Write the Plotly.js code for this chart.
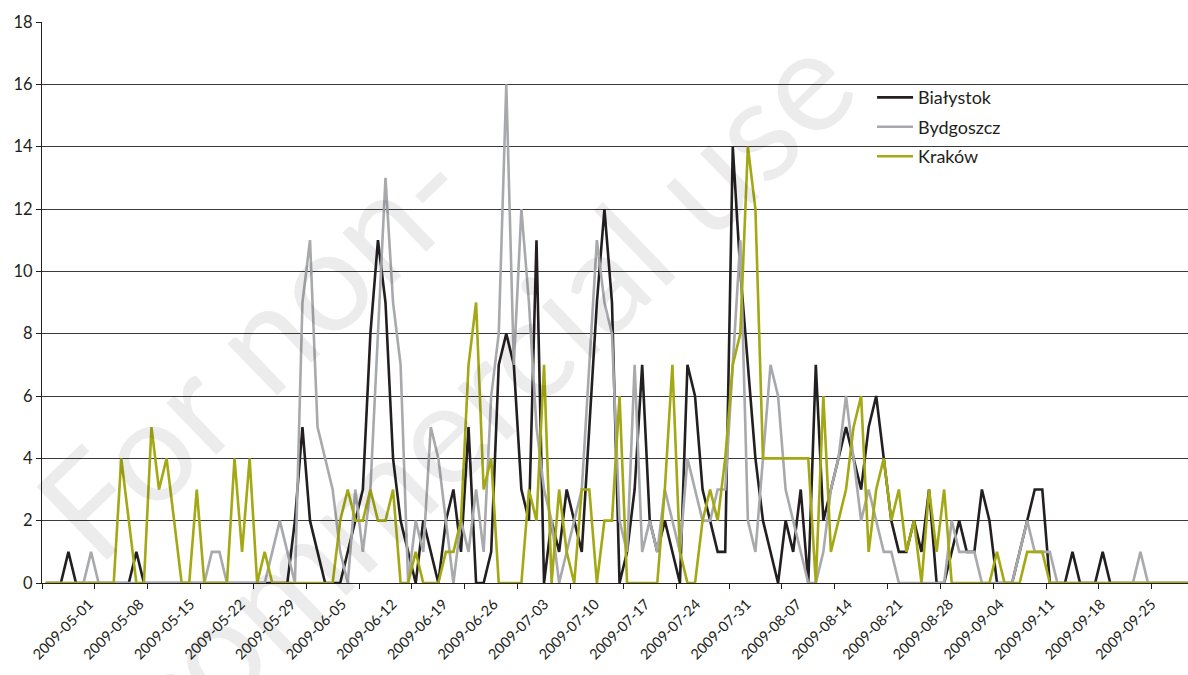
<!DOCTYPE html>
<html><head><meta charset="utf-8">
<script src="https://cdn.plot.ly/plotly-3.0.1.min.js"></script>
<style>html,body{margin:0;padding:0;background:#fff}#chart{width:1188px;height:675px}</style>
</head><body><div id="chart"></div>
<script>
// categories: daily dates 2009-05-01 .. 2009-09-30
const dayCount = 153;
const dates = [];
(function () {
  const d0 = Date.UTC(2009, 4, 1);
  for (let i = 0; i < dayCount; i++) dates.push(new Date(d0 + i * 86400000).toISOString().slice(0, 10));
})();
const dayIndex = dates.map((d, i) => i);

const seriesNames = ['Białystok', 'Bydgoszcz', 'Kraków'];

const bialystok = [
  0,0,0,1,0,0,0,0,0,0, 0,0,1,0,0,0,0,0,0,0,
  0,0,0,0,0,0,0,0,0,0, 0,0,0,2,5,2,1,0,0,0,
  1,2,3,8,11,9,4,2,1,0, 2,1,0,2,3,1,5,0,0,1,
  7,8,7,3,2,11,0,2,1,3, 2,1,5,9,12,9,0,1,3,7,
  2,1,2,1,0,7,6,3,2,1, 1,14,10,7,4,2,1,0,2,1,
  3,0,7,2,3,4,5,4,3,5, 6,4,2,1,1,2,1,3,0,0,
  1,2,1,1,3,2,0,0,0,1, 2,3,3,0,0,0,1,0,0,0,
  1,0,0,0,0,0,0,0,0,0, 0,0,0
];
const bydgoszcz = [
  0,0,0,0,0,0,1,0,0,0, 0,0,0,0,0,0,0,0,0,0,
  0,0,1,1,0,0,0,0,0,0, 1,2,1,0,9,11,5,4,3,1,
  0,3,1,3,8,13,9,7,0,2, 1,5,4,2,0,2,1,3,1,6,
  8,16,7,12,9,5,3,2,0,1, 2,3,7,11,9,8,2,1,7,1,
  2,1,3,2,1,4,3,2,2,3, 3,7,11,2,1,4,7,6,3,2,
  1,0,0,1,3,4,6,4,2,3, 2,1,1,0,0,0,0,0,0,0,
  2,1,1,1,0,0,0,0,0,1, 2,1,1,1,0,0,0,0,0,0,
  0,0,0,0,0,1,0,0,0,0, 0,0,0
];
const krakow = [
  0,0,0,0,0,0,0,0,0,0, 4,2,0,0,5,3,4,2,0,0,
  3,0,0,0,0,4,1,4,0,1, 0,0,0,0,0,0,0,0,0,2,
  3,2,2,3,2,2,3,0,0,1, 0,0,0,1,1,2,7,9,3,4,
  0,0,0,0,3,2,7,0,3,1, 0,3,3,0,2,2,6,0,0,0,
  0,0,3,7,1,0,0,2,3,2, 4,7,8,14,12,4,4,4,4,4,
  4,4,0,6,1,2,3,5,6,1, 3,4,2,3,1,2,0,3,1,3,
  0,0,0,0,0,0,1,0,0,0, 1,1,1,0,0,0,0,0,0,0,
  0,0,0,0,0,0,0,0,0,0, 0,0,0
];
const seriesValues = [bialystok, bydgoszcz, krakow];
const seriesColors = ['#231f20', '#a7a9ac', '#a3a814'];

const labelEvery = 7;
const tickLabels = dates.filter((d, i) => i % labelEvery === 0 && i <= dayCount - 6);
const tickBounds = tickLabels.map((d, k) => k * labelEvery - 0.5);
const labelSlots = tickLabels.map((d, k) => k);

const traces = seriesValues.map((vals, s) => ({
  x: dayIndex, y: vals, text: dates, type: 'scatter', mode: 'lines',
  name: seriesNames[s], legendgroup: 'g' + s,
  line: { color: seriesColors[s], width: 2.6 },
  hovertemplate: '%{text}: %{y}<extra>' + seriesNames[s] + '</extra>'
}));
traces.push({ x: [0], y: [null], xaxis: 'x2', showlegend: false, hoverinfo: 'skip', mode: 'lines' });

const axisColor = '#231f20';
const wmFont = { family: 'Lato, "Open Sans", sans-serif', size: 142, color: 'rgba(0,0,0,0.075)' };
const layout = {
  width: 1188, height: 675,
  margin: { l: 42, r: 0, t: 22, b: 92, pad: 0 },
  paper_bgcolor: '#ffffff', plot_bgcolor: '#ffffff',
  showlegend: true,
  xaxis: {
    range: [-0.5, 151.3], tickmode: 'array', tickvals: tickBounds,
    ticks: 'outside', ticklen: 5, tickwidth: 1, tickcolor: axisColor,
    showticklabels: false, showline: true, linecolor: axisColor, linewidth: 1,
    showgrid: false, zeroline: false, fixedrange: true
  },
  xaxis2: {
    overlaying: 'x', anchor: 'y', side: 'bottom',
    range: [-0.93, 21.72], tickmode: 'array', tickvals: labelSlots, ticktext: tickLabels,
    tickangle: -45, ticks: '', showline: false, showgrid: false, zeroline: false,
    ticklabelstandoff: 9,
    tickfont: { family: 'Lato, "Open Sans", sans-serif', size: 14.5, color: axisColor }
  },
  yaxis: {
    range: [0, 18], tickmode: 'linear', tick0: 0, dtick: 2,
    showgrid: true, gridcolor: '#3a3a3a', gridwidth: 1,
    ticks: 'outside', ticklen: 5, tickwidth: 1, tickcolor: axisColor,
    showline: true, linecolor: axisColor, linewidth: 1, zeroline: false,
    tickfont: { family: 'Lato, "Open Sans", sans-serif', size: 16.5, color: axisColor }
  },
  legend: {
    x: 0.7243, xanchor: 'left', y: 0.898, yanchor: 'top',
    bgcolor: 'rgba(0,0,0,0)', borderwidth: 0,
    font: { family: 'Lato, "Open Sans", sans-serif', size: 18, color: axisColor },
    traceorder: 'grouped', tracegroupgap: 3, itemwidth: 36
  },
  annotations: [
    { text: 'For non-', xref: 'paper', yref: 'paper', x: 0.182, y: 0.424,
      xanchor: 'center', yanchor: 'middle', showarrow: false, textangle: -44, font: wmFont },
    { text: 'commercial use', xref: 'paper', yref: 'paper', x: 0.382, y: 0.344,
      xanchor: 'center', yanchor: 'middle', showarrow: false, textangle: -44, font: wmFont }
  ]
};

Plotly.newPlot('chart', traces, layout, { displayModeBar: false, staticPlot: true });
</script>
</body></html>
